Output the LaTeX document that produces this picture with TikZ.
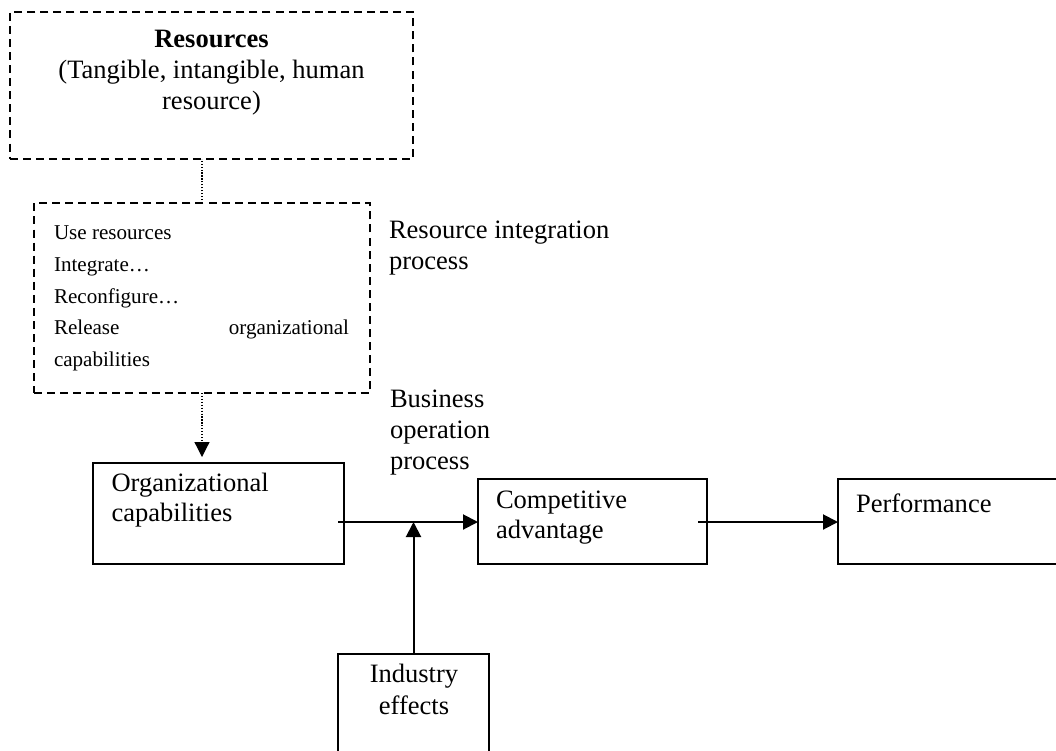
\documentclass[tikz,border=0pt]{standalone}
\usepackage{fontspec}
\setmainfont{Liberation Serif}
\usetikzlibrary{arrows.meta,fit}
\newcommand\bigf{\fontsize{19.9pt}{23.6pt}\selectfont}
\newcommand\smallf{\fontsize{15.8pt}{23.9pt}\selectfont}
\begin{document}
\begin{tikzpicture}[x=0.75pt,y=-0.75pt,
  every node/.style={inner sep=0pt,outer sep=0pt},
  box/.style={draw,line width=1.5pt,inner sep=0pt},
  dbox/.style={draw,line width=1.5pt,inner sep=0pt,dash pattern=on 6pt off 3.8pt},
  txt/.style={anchor=base west,font=\bigf},
  ctxt/.style={anchor=base,font=\bigf},
  arr/.style={line width=1.5pt,-{Triangle[length=11.25pt,width=11.25pt]}},
  dotl/.style={line width=0.9pt,dash pattern=on 0.9pt off 1.3pt},
]
\useasboundingbox (0,0) rectangle (1056,750);
\clip (0,0) rectangle (1056,750);
% boxes
\node[dbox,fit={(10,12) (413,159)}] (res) {};
\node[dbox,fit={(34,203) (370,393)}] (mid) {};
\node[box,fit={(93,463) (344,564)}] (org) {};
\node[box,fit={(478,479) (707,564)}] (comp) {};
\node[box,fit={(838,479) (1062,564)}] (perf) {};
\node[box,fit={(338,654) (489,756)}] (ind) {};
% texts
\node[ctxt] (restxt) at (211.5,47) {\parbox[t]{300pt}{\centering\bigf\textbf{Resources}\\(Tangible, intangible, human\\resource)}};
\node[anchor=base west] (midtxt) at (54,239.3) {\parbox[t]{221.25pt}{\smallf Use resources\\Integrate…\\Reconfigure…\\Release\hfill organizational\\capabilities}};
\node[txt] (ript) at (389,238.5) {\parbox[t]{250pt}{\bigf Resource integration\\process}};
\node[txt] (bopt) at (390,407) {\parbox[t]{120pt}{\bigf Business\\operation\\process}};
\node[txt] (orgt) at (111.5,491.5) {\parbox[t]{180pt}{\fontsize{19.9pt}{22.6pt}\selectfont Organizational\\capabilities}};
\node[txt] (compt) at (496,508.3) {\parbox[t]{170pt}{\fontsize{19.9pt}{22.6pt}\selectfont Competitive\\advantage}};
\node[txt] (perft) at (856,512.7) {Performance};
\node[ctxt] (indt) at (414,682.7) {\parbox[t]{110pt}{\centering\bigf Industry\\effects}};
% connectors
\coordinate (s1) at (338,522);
\coordinate (s2) at (698,522);
\draw[dotl] (mid.north) -- (mid.north |- res.south);
\draw[dotl,-{Triangle[length=11.25pt,width=11.25pt]},shorten >=4.5pt] (mid.south) -- (mid.south |- org.north);
\draw[arr] (s1) -- (s1 -| comp.west);
\draw[arr] (s2) -- (s2 -| perf.west);
\draw[arr] (ind.north) -- (ind.north |- s1);
\end{tikzpicture}
\end{document}
